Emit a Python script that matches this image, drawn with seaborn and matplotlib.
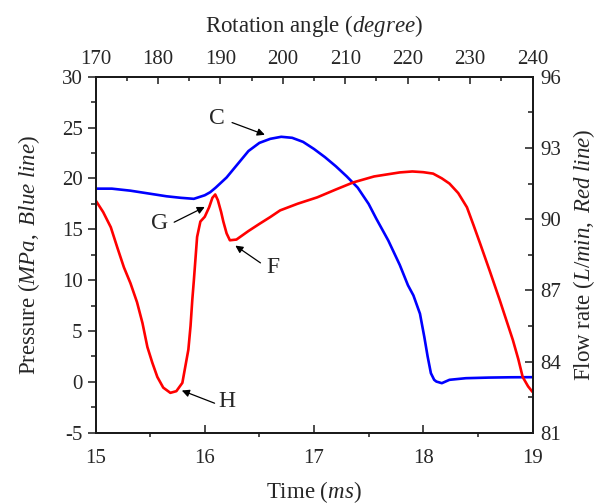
import matplotlib
matplotlib.use("Agg")
import matplotlib.pyplot as plt
from matplotlib.ticker import MultipleLocator
import seaborn as sns

# ---- data ----
time_blue = [15.0, 15.15, 15.32, 15.5, 15.65, 15.78, 15.9, 16.0, 16.05, 16.1, 16.2, 16.3,
             16.4, 16.5, 16.6, 16.7, 16.8, 16.9, 17.0, 17.1, 17.2, 17.3, 17.4, 17.5,
             17.57, 17.68, 17.785, 17.86, 17.91, 17.97, 18.01, 18.04, 18.07, 18.1,
             18.12, 18.17, 18.24, 18.39, 18.6, 18.8, 19.0]
pressure = [19.0, 19.0, 18.8, 18.5, 18.25, 18.1, 18.0, 18.35, 18.65, 19.1, 20.1, 21.4,
            22.7, 23.5, 23.9, 24.1, 24.0, 23.6, 22.9, 22.1, 21.2, 20.2, 19.1, 17.5,
            16.05, 13.9, 11.5, 9.5, 8.5, 6.7, 4.4, 2.5, 0.85, 0.2,
            0.03, -0.13, 0.2, 0.36, 0.42, 0.45, 0.46]

time_red = [15.0, 15.07, 15.14, 15.2, 15.26, 15.32, 15.38, 15.43, 15.475, 15.52, 15.566,
            15.62, 15.685, 15.74, 15.795, 15.85, 15.87, 15.886, 15.9, 15.93, 15.96, 16.0,
            16.04, 16.07, 16.096, 16.12, 16.15, 16.17, 16.2, 16.23, 16.29, 16.4, 16.5,
            16.6, 16.69, 16.85, 17.03, 17.2, 17.36, 17.55, 17.785, 17.9, 18.0, 18.09,
            18.17, 18.24, 18.32, 18.4, 18.46, 18.52, 18.61, 18.7, 18.76, 18.82, 18.87,
            18.91, 18.96, 19.0]
flow = [90.8, 90.3, 89.66, 88.8, 87.97, 87.3, 86.5, 85.62, 84.61, 83.95, 83.35,
        82.9, 82.68, 82.75, 83.1, 84.5, 85.5, 86.6, 87.4, 89.25, 89.9, 90.1,
        90.5, 90.9, 91.04, 90.8, 90.3, 89.9, 89.4, 89.11, 89.14, 89.5, 89.8,
        90.09, 90.37, 90.65, 90.92, 91.25, 91.55, 91.8, 91.97, 92.01, 91.98, 91.92,
        91.72, 91.5, 91.1, 90.5, 89.75, 88.98, 87.8, 86.59, 85.75, 84.91, 84.1,
        83.35, 82.95, 82.72]

annot_labels = ["C", "G", "F", "H"]
annot_text_xy = [(16.11, 25.9), (15.59, 15.6), (16.62, 11.2), (16.2, -1.9)]
annot_tail_xy = [(16.25, 25.5), (15.72, 15.7), (16.51, 11.7), (16.09, -2.1)]
annot_head_xy = [(16.55, 24.3), (16.0, 17.2), (16.28, 13.4), (15.79, -0.85)]

time_lim = (15, 19)
pressure_lim = (-5, 30)
flow_lim = (81, 96)
angle_lim = (170, 240)

# ---- style ----
sns.set_theme(style="white")
plt.rcParams["font.family"] = ["Liberation Serif", "DejaVu Serif"]
plt.rcParams["mathtext.fontset"] = "custom"
plt.rcParams["mathtext.rm"] = "Liberation Serif"
plt.rcParams["mathtext.it"] = "Liberation Serif:italic"
plt.rcParams["axes.unicode_minus"] = False

fig = plt.figure(figsize=(5.98, 5.04), dpi=100)
ax = fig.add_axes([95.5 / 598, 71.3 / 504, 437 / 598, 355.9 / 504])
ax2 = ax.twinx()
ax3 = ax.twiny()

lw = 1.9
sns.lineplot(x=time_red, y=flow, ax=ax2, color="#ff0000", lw=lw, estimator=None, sort=False)
sns.lineplot(x=time_blue, y=pressure, ax=ax, color="#0000ff", lw=lw, estimator=None, sort=False)

ax.set_xlim(*time_lim)
ax.set_ylim(*pressure_lim)
ax2.set_ylim(*flow_lim)
ax3.set_xlim(*angle_lim)

tick_fs = 15
label_fs = 16.5
tc = "#1a1a1a"

ax.xaxis.set_major_locator(MultipleLocator(1))
ax.xaxis.set_minor_locator(MultipleLocator(0.5))
ax.yaxis.set_major_locator(MultipleLocator(5))
ax.yaxis.set_minor_locator(MultipleLocator(2.5))
ax2.yaxis.set_major_locator(MultipleLocator(3))
ax2.yaxis.set_minor_locator(MultipleLocator(1.5))
ax3.xaxis.set_major_locator(MultipleLocator(10))
ax3.xaxis.set_minor_locator(MultipleLocator(5))

ax.tick_params(axis="x", which="major", direction="in", length=5.5, width=1.1,
               labelsize=tick_fs, top=False, bottom=True, pad=11.5, color=tc)
ax.tick_params(axis="x", which="minor", direction="out", length=3, width=1.1,
               top=False, bottom=True, color=tc)
ax.tick_params(axis="y", which="major", direction="out", length=5.8, width=1.1,
               labelsize=tick_fs, left=True, right=False, pad=3.5, color=tc)
ax.tick_params(axis="y", which="minor", direction="out", length=3.5, width=1.1,
               left=True, right=False, color=tc)
ax2.tick_params(axis="y", which="major", direction="in", length=5.5, width=1.1,
                labelsize=tick_fs, right=True, left=False, pad=5.5, color=tc)
ax2.tick_params(axis="y", which="minor", direction="in", length=3.5, width=1.1,
                right=True, left=False, color=tc)
ax3.tick_params(axis="x", which="major", direction="in", length=5, width=1.1,
                labelsize=tick_fs, top=True, bottom=False, pad=5.5, color=tc)
ax3.tick_params(axis="x", which="minor", direction="in", length=3, width=1.1,
                top=True, bottom=False, color=tc)

for a in (ax, ax2, ax3):
    for s in a.spines.values():
        s.set_linewidth(1.2)
        s.set_color(tc)

ax.set_xlabel(r"Time ($\mathit{ms}$)", fontsize=label_fs, labelpad=8)
ax.set_ylabel(r"Pressure ($\mathit{MPa,\ Blue\ line}$)", fontsize=label_fs, labelpad=14)
ax2.set_ylabel(r"Flow rate ($\mathit{L/min,\ Red\ line}$)", fontsize=label_fs, labelpad=7.5)
ax3.set_xlabel(r"Rotation angle ($\mathit{degree}$)", fontsize=label_fs, labelpad=13)

for lab, txy, tail, head in zip(annot_labels, annot_text_xy, annot_tail_xy, annot_head_xy):
    ax.text(txy[0], txy[1], lab, fontsize=17, ha="center", va="center", zorder=6)
    ax.annotate("", xy=head, xytext=tail, xycoords="data", textcoords="data",
                arrowprops=dict(arrowstyle="-|>", color="black", lw=0.9,
                                mutation_scale=11, shrinkA=0, shrinkB=0), zorder=6)

fig.savefig("out.png", dpi=100)
